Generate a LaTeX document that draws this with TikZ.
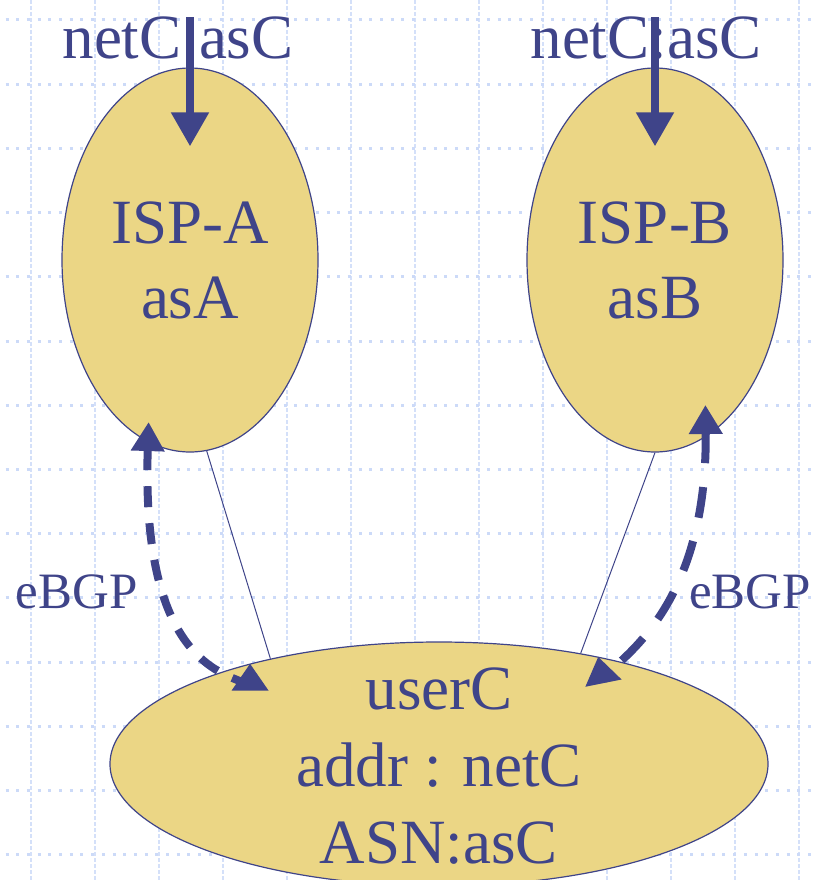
\documentclass[tikz,border=0pt]{standalone}
\usepackage{fontspec}
\setmainfont{Liberation Serif}
\usepackage{xcolor}
\usetikzlibrary{arrows.meta, calc, shapes.geometric}

\definecolor{ink}{HTML}{3F4489}
\definecolor{sand}{HTML}{EBD685}
\definecolor{gridblue}{HTML}{CCDAF8}

\begin{document}
\begin{tikzpicture}[
    x=1pt, y=1pt,
    font=\fontsize{63}{75}\selectfont,
    as/.style={ellipse, draw=ink, line width=1.2pt, fill=sand,
        inner sep=0pt, text=ink, align=center},
    tag/.style={text=ink, inner sep=0pt},
    feed/.style={-{Triangle[length=34pt,width=36pt]}, line width=8pt, ink},
    link/.style={line width=1pt, ink},
    peer/.style={{Triangle[length=29pt,width=32pt]}-{Triangle[length=27pt,width=35pt]},
        line width=8pt, ink},
    gridh/.style={gridblue, line width=3pt, dash pattern=on 3pt off 7.7pt},
    gridv/.style={gridblue!85, line width=2pt, dash pattern=on 4pt off 2pt},
]
\useasboundingbox (0,0) rectangle (816,-880);
%% dotted background grid
\foreach \gx in {0,...,12}
    \draw[gridv] (31+64*\gx,0) -- (31+64*\gx,-880);
\foreach \gy in {0,...,13}
    \draw[gridh] (5.5,-20-64.2*\gy) -- (816,-20-64.2*\gy);
%% autonomous systems
\node[as, minimum width=256pt, minimum height=384pt] (ispA) at (190,-260) {ISP-A\\asA};
\node[as, minimum width=256pt, minimum height=384pt] (ispB) at (655,-260) {ISP-B\\asB};
\node[as, minimum width=658pt, minimum height=244pt] (userC) at (439,-764) {};
\node[tag, align=center, font=\fontsize{63}{77}\selectfont] (userCtxt) at (439,-766)
    {userC\\addr : netC\\ASN:asC};
%% announced prefix
\node[tag, anchor=base] (netA) at (178,-59) {netC:asC};
\node[tag, anchor=base] (netB) at (646,-59) {netC:asC};
\draw[feed] (ispA.center |- netA.north) -- ([yshift=-79pt]ispA.north);
\draw[feed] (ispB.center |- netB.north) -- ([yshift=-79pt]ispB.north);
%% physical links
\draw[link] (ispA.-85) -- (userC.148);
\draw[link] (ispB.-90) -- (userC.38.5);
%% eBGP sessions
\draw[peer, dash pattern=on 21pt off 16pt, shorten <=-20pt]
    (ispA.-103) .. controls +(-8,-250) and +(0,-8) .. (userC.152.5);
\draw[peer, dash pattern=on 31pt off 24pt, shorten <=-32pt]
    (ispB.-74.5) .. controls +(2,-190) and +(2,-10) .. (userC.34.7);
\node[tag, anchor=base east, font=\fontsize{51}{60}\selectfont] (bgpA) at (138,-608) {eBGP};
\node[tag, anchor=base west, font=\fontsize{51}{60}\selectfont] (bgpB) at (689,-608) {eBGP};
\end{tikzpicture}
\end{document}
